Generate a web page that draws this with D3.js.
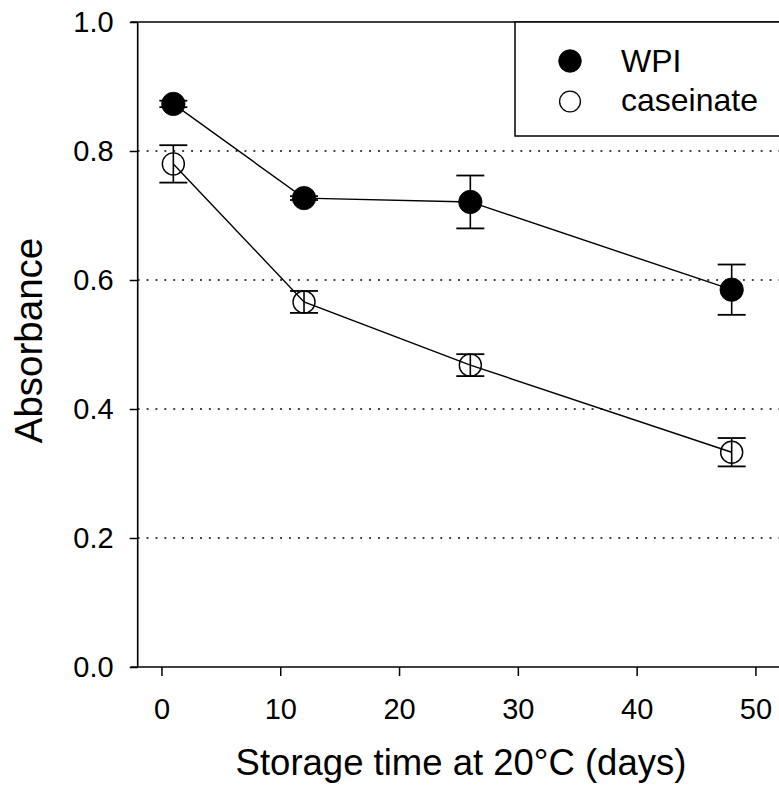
<!DOCTYPE html>
<html>
<head>
<meta charset="utf-8">
<script src="https://cdn.jsdelivr.net/npm/d3@7"></script>
<style>
  html, body { margin: 0; padding: 0; background: #fff; }
  svg { display: block; }
  text { font-family: "Liberation Sans", Arial, sans-serif; fill: #000; }
</style>
</head>
<body>
<script>
// ---- data ----
const days = [1, 12, 26, 48];
const wpi = [0.873, 0.727, 0.721, 0.585];
const wpiErr = [0.005, 0.003, 0.041, 0.039];
const caseinate = [0.780, 0.566, 0.468, 0.333];
const caseinateErr = [0.029, 0.017, 0.017, 0.022];
const xTicks = [0, 10, 20, 30, 40, 50];
const yTicks = [0.0, 0.2, 0.4, 0.6, 0.8, 1.0];
const gridValues = [0.2, 0.4, 0.6, 0.8];
const seriesNames = ["WPI", "caseinate"];

const W = 779, H = 796;
const svg = d3.select("body").append("svg").attr("width", W).attr("height", H);

const x = d3.scaleLinear().domain([-2, 52]).range([137.7, 779.2]);
const y = d3.scaleLinear().domain([0, 1]).range([667, 22]);

// grid lines (dotted)
svg.append("g").selectAll("line").data(gridValues).join("line")
  .attr("x1", x(-2)).attr("x2", W)
  .attr("y1", d => y(d)).attr("y2", d => y(d))
  .attr("stroke", "#000").attr("stroke-width", 1.7)
  .attr("stroke-dasharray", "1.9 7");

// axes
const yAxis = d3.axisLeft(y).tickValues(yTicks).tickFormat(d3.format(".1f"))
  .tickSize(8).tickPadding(16).tickSizeOuter(0);
const gy = svg.append("g").attr("transform", `translate(${x(-2)},0)`).call(yAxis);
gy.select(".domain").remove();
gy.selectAll(".tick line").attr("stroke", "#000").attr("stroke-width", 1.5);
gy.selectAll(".tick text").attr("font-size", 29).attr("font-family", "Liberation Sans, Arial, sans-serif");

const xAxis = d3.axisBottom(x).tickValues(xTicks).tickFormat(d3.format("d"))
  .tickSize(9).tickPadding(22).tickSizeOuter(0);
const gx = svg.append("g").attr("transform", `translate(0,${y(0)})`).call(xAxis);
gx.select(".domain").remove();
gx.selectAll(".tick line").attr("stroke", "#000").attr("stroke-width", 1.5);
gx.selectAll(".tick text").attr("font-size", 29).attr("font-family", "Liberation Sans, Arial, sans-serif");

// frame lines
svg.append("line").attr("x1", x(-2)).attr("x2", x(-2)).attr("y1", y(1)).attr("y2", y(0))
  .attr("stroke", "#000").attr("stroke-width", 1.6);
svg.append("line").attr("x1", x(-2) - 7).attr("x2", W).attr("y1", y(0)).attr("y2", y(0))
  .attr("stroke", "#000").attr("stroke-width", 1.6);
svg.append("line").attr("x1", x(-2) - 7).attr("x2", W).attr("y1", y(1)).attr("y2", y(1))
  .attr("stroke", "#000").attr("stroke-width", 1.6);

// axis titles
svg.append("text").attr("x", 461).attr("y", 775).attr("text-anchor", "middle")
  .attr("font-size", 36.5).text("Storage time at 20°C (days)");
svg.append("text").attr("transform", `translate(42,${(y(0) + y(1)) / 2 - 4}) rotate(-90)`)
  .attr("text-anchor", "middle").attr("font-size", 38.5).text("Absorbance");

// series
const series = [
  { name: seriesNames[0], vals: wpi, errs: wpiErr, filled: true },
  { name: seriesNames[1], vals: caseinate, errs: caseinateErr, filled: false }
];
const line = d3.line().x(d => x(d[0])).y(d => y(d[1]));
const capHalf = 14, r = 11.3;

series.forEach(s => {
  const pts = days.map((d, i) => [d, s.vals[i], s.errs[i]]);
  const g = svg.append("g");
  g.append("path").attr("d", line(pts)).attr("fill", "none")
    .attr("stroke", "#000").attr("stroke-width", 1.4);
  const eb = g.selectAll("g.eb").data(pts).join("g").attr("class", "eb");
  eb.append("line").attr("x1", d => x(d[0])).attr("x2", d => x(d[0]))
    .attr("y1", d => y(d[1] + d[2])).attr("y2", d => y(d[1] - d[2]))
    .attr("stroke", "#000").attr("stroke-width", 1.6);
  eb.append("line").attr("x1", d => x(d[0]) - capHalf).attr("x2", d => x(d[0]) + capHalf)
    .attr("y1", d => y(d[1] + d[2])).attr("y2", d => y(d[1] + d[2]))
    .attr("stroke", "#000").attr("stroke-width", 1.8);
  eb.append("line").attr("x1", d => x(d[0]) - capHalf).attr("x2", d => x(d[0]) + capHalf)
    .attr("y1", d => y(d[1] - d[2])).attr("y2", d => y(d[1] - d[2]))
    .attr("stroke", "#000").attr("stroke-width", 1.8);
  g.selectAll("circle").data(pts).join("circle")
    .attr("cx", d => x(d[0])).attr("cy", d => y(d[1]))
    .attr("r", s.filled ? r + 0.4 : r - 0.3)
    .attr("fill", s.filled ? "#000" : "none")
    .attr("stroke", "#000").attr("stroke-width", s.filled ? 0.8 : 1.4);
});

// legend
const lg = svg.append("g");
lg.append("rect").attr("x", 515).attr("y", y(1)).attr("width", W - 515 + 10).attr("height", 136 - y(1))
  .attr("fill", "#fff").attr("stroke", "#000").attr("stroke-width", 1.5);
series.forEach((s, i) => {
  const cy = [61, 101.5][i];
  lg.append("circle").attr("cx", 570).attr("cy", cy).attr("r", s.filled ? 11.3 : 10.4)
    .attr("fill", s.filled ? "#000" : "none").attr("stroke", "#000").attr("stroke-width", s.filled ? 0.8 : 1.3);
  lg.append("text").attr("x", 621).attr("y", [71.5, 110.5][i]).attr("font-size", 32).text(s.name);
});
</script>
</body>
</html>
